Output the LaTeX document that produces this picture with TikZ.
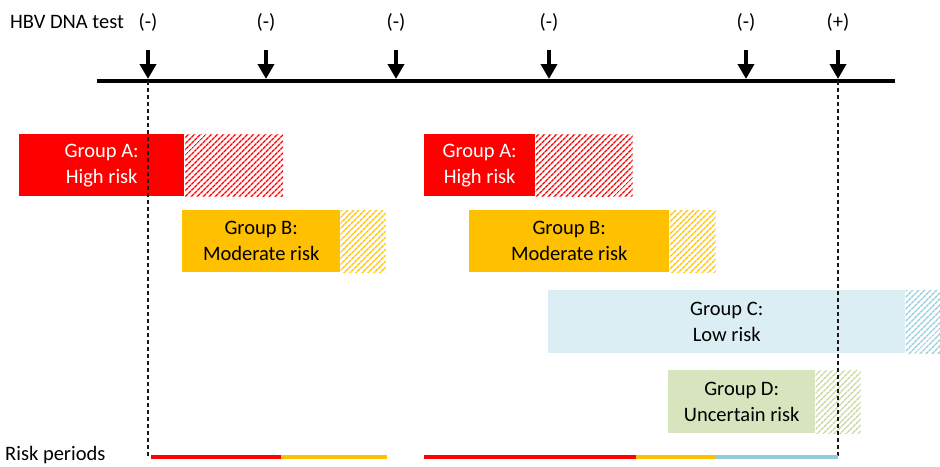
\documentclass[tikz,border=0pt]{standalone}
\usepackage{fontspec}
\setmainfont{Carlito}
\usetikzlibrary{positioning,arrows.meta,patterns.meta}

\definecolor{riskred}{HTML}{FF0000}
\definecolor{riskorange}{HTML}{FFC000}
\definecolor{risklow}{HTML}{DBEEF4}
\definecolor{risklowline}{HTML}{92CDDC}
\definecolor{riskunc}{HTML}{D7E4BD}
\definecolor{riskuncline}{HTML}{C3D69B}

\tikzset{
  lbl/.style={inner sep=0pt, font=\fontsize{20.5}{26}\selectfont},
  grp/.style={lbl, anchor=north west, minimum height=62pt, align=center},
  hatchbox/.style={inner sep=0pt, minimum height=62pt,
    pattern={Lines[angle=45,distance=4pt,line width=1.5pt]}},
  testarrow/.style={line width=4.5pt, -{Triangle[width=16pt,length=15pt]}},
  cutoff/.style={line width=1.2pt, black!90, dash pattern=on 4pt off 3pt},
  period/.style={line width=4.5pt}
}

\begin{document}
\begin{tikzpicture}[x=1pt,y=-1pt]
  \useasboundingbox (0,0) rectangle (940,466);

  % timeline
  \node[lbl, anchor=west] (hbv) at (10,22) {HBV DNA test};
  \coordinate (tl0) at (97,81);
  \coordinate (tl1) at (895,81);
  \draw[line width=4pt] (tl0) -- (tl1);

  \foreach \x/\res [count=\i] in {148/-,266/-,396/-,549/-,746/-,838/+} {
    \node[lbl] (res\i) at (\x,22) {(\res)};
    \coordinate (top\i) at (\x,50);
    \coordinate (tick\i) at (\x,79);
    \draw[testarrow] (top\i) -- (tick\i);
  }

  % first episode
  \node[grp, fill=riskred, text=white, minimum width=165pt] (grpA1) at (19,134) {Group A:\\High risk};
  \node[hatchbox, pattern color=riskred, minimum width=98pt, right=0pt of grpA1] (hatchA1) {};
  \node[grp, fill=riskorange, minimum width=158pt] (grpB1) at (182,210) {Group B:\\Moderate risk};
  \node[hatchbox, pattern color=riskorange, minimum width=45pt, right=0pt of grpB1] (hatchB1) {};

  % second episode
  \node[grp, fill=riskred, text=white, minimum width=111pt] (grpA2) at (424,134) {Group A:\\High risk};
  \node[hatchbox, pattern color=riskred, minimum width=97pt, right=0pt of grpA2] (hatchA2) {};
  \node[grp, fill=riskorange, minimum width=200pt] (grpB2) at (469,210) {Group B:\\Moderate risk};
  \node[hatchbox, pattern color=riskorange, minimum width=46pt, right=0pt of grpB2] (hatchB2) {};
  \node[grp, fill=risklow, minimum width=357pt, minimum height=63pt] (grpC) at (548,290) {Group C:\\Low risk};
  \node[hatchbox, pattern color=risklowline, minimum width=35pt, minimum height=63pt, right=0pt of grpC] (hatchC) {};
  \node[grp, fill=riskunc, minimum width=147pt, minimum height=63pt] (grpD) at (668,370) {Group D:\\Uncertain risk};
  \node[hatchbox, pattern color=riskuncline, minimum width=45pt, minimum height=63pt, right=0pt of grpD] (hatchD) {};

  % cut-off lines
  \coordinate (end1) at (148,457);
  \coordinate (end6) at (838,457);
  \draw[cutoff] (tick1 |- tl0) -- (end1);
  \draw[cutoff] (tick6 |- tl0) -- (end6);

  % risk periods
  \node[lbl, anchor=base west] (periods) at (5,460) {Risk periods};
  \coordinate (p1) at (151,457);
  \coordinate (p2) at (281,457);
  \coordinate (p3) at (387,457);
  \coordinate (p4) at (424,457);
  \coordinate (p5) at (636,457);
  \coordinate (p6) at (716,457);
  \draw[period, riskred] (p1) -- (p2);
  \draw[period, riskorange] (p2) -- (p3);
  \draw[period, riskred] (p4) -- (p5);
  \draw[period, riskorange] (p5) -- (p6);
  \draw[period, risklowline] (p6) -- (end6);
\end{tikzpicture}
\end{document}
